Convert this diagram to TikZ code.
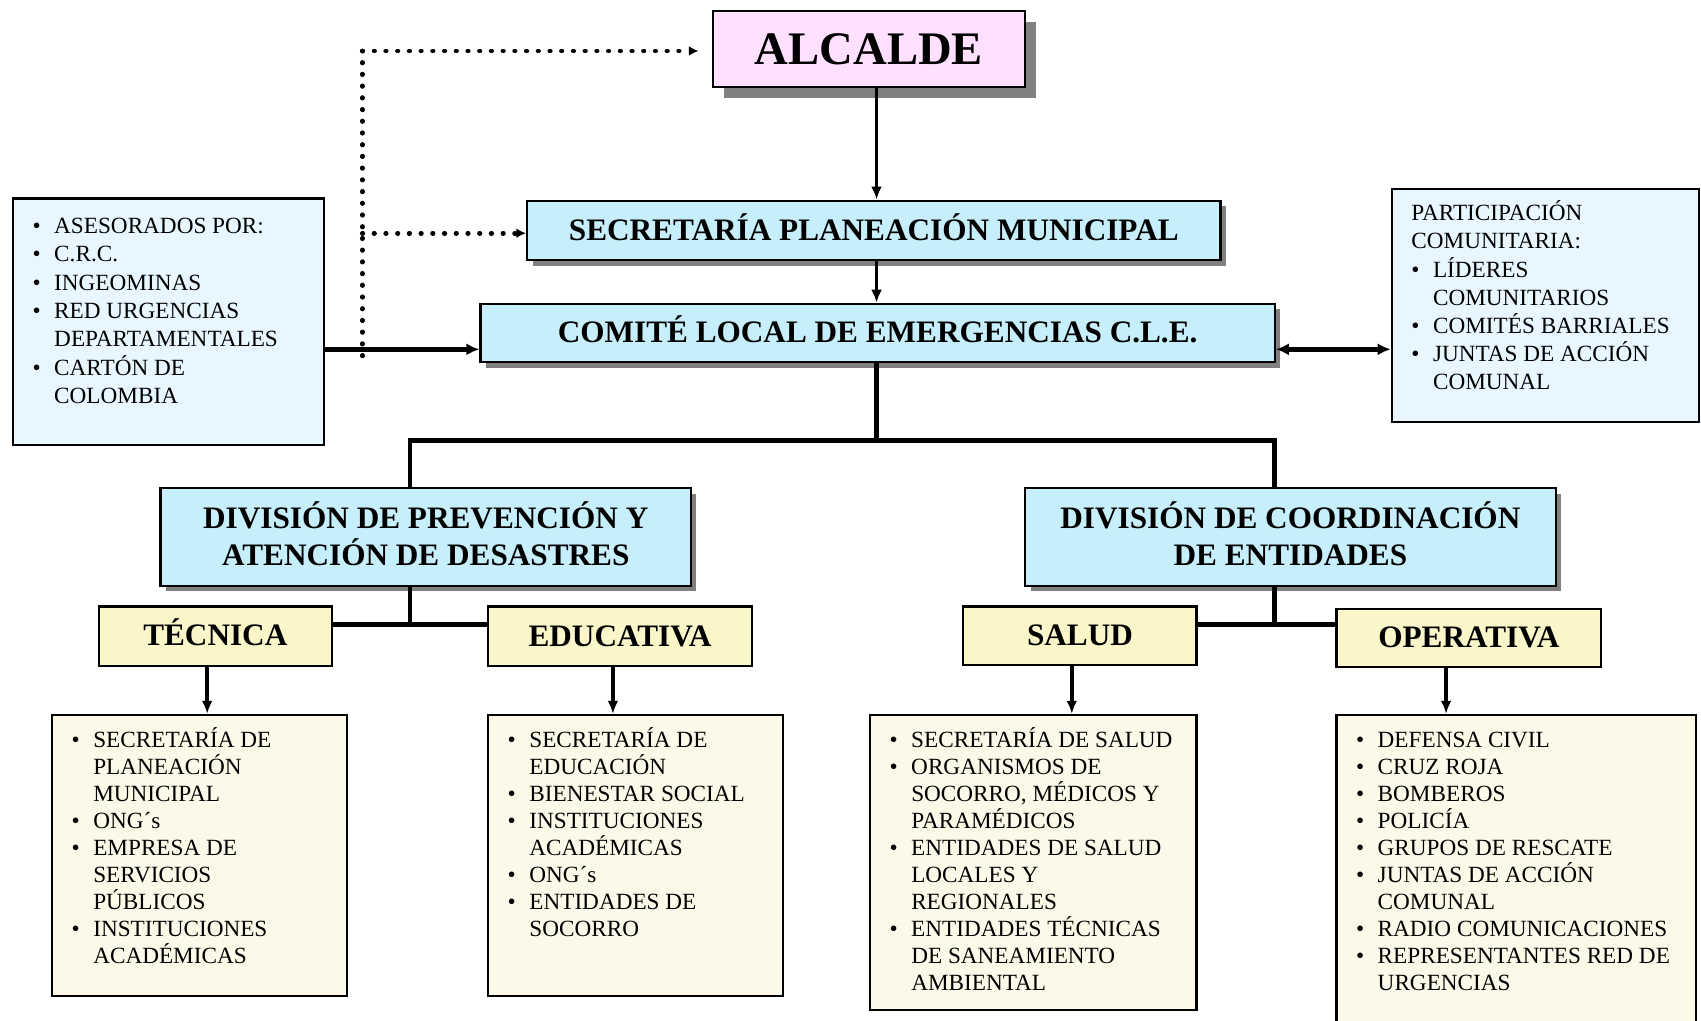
\documentclass[tikz,border=0pt]{standalone}
\usepackage{fontspec}
\setmainfont{Liberation Serif}
\usetikzlibrary{arrows.meta,shadows,calc}

\definecolor{pinkbox}{RGB}{255,224,255}
\definecolor{bluebox}{RGB}{198,238,251}
\definecolor{yelbox}{RGB}{250,246,202}
\definecolor{ivorybox}{RGB}{252,249,232}
\definecolor{sidebox}{RGB}{232,247,255}
\definecolor{shadowgray}{RGB}{128,128,128}

\newcommand\bitem[1]{\par\noindent\hangindent=10pt\hangafter=1\makebox[10pt][l]{\textbullet}\rule{0pt}{9pt}#1}
\newcommand\pitem[1]{\par\noindent\rule{0pt}{9pt}#1}
% depth strut to balance accents above capitals
\newcommand\accfix{\rule[-3.5pt]{0pt}{3.5pt}}
% #1 height, #2 width, #3 top space, #4 baselineskip, #5 body
\newcommand\listbody[5]{\parbox[c][#1][t]{#2}{\fontsize{10.7}{#4}\selectfont\leftskip=9pt\rightskip=0pt\lineskiplimit=-20pt\parskip=0pt\vspace*{#3}#5\par}}

\begin{document}
\begin{tikzpicture}[x=0.5pt,y=-0.5pt,
  box/.style={draw=black,line width=1pt,inner sep=0pt,align=center,
    font=\fontsize{14.4}{17}\selectfont\bfseries},
  lbox/.style={draw=black,line width=1pt,inner sep=0pt},
  shad/.style={drop shadow={shadow xshift=2.5pt,shadow yshift=-2.5pt,fill=shadowgray,opacity=1}},
  conn/.style={line width=1.7pt,-{Latex[length=6pt,width=5pt]}},
  tree/.style={line width=2.2pt},
  dots/.style={line width=2.2pt,line cap=round,dash pattern=on 0.2pt off 5.2pt},
]
\useasboundingbox (0,0) rectangle (1568,941);

% top boxes
\node[box,fill=pinkbox,minimum width=144pt,minimum height=35pt,
  drop shadow={shadow xshift=5pt,shadow yshift=-5pt,fill=shadowgray,opacity=1},
  font=\fontsize{21.5}{25}\selectfont\bfseries] (alc) at (801,45) {ALCALDE};
\node[box,shad,fill=bluebox,minimum width=319.5pt,minimum height=27.5pt] (sec) at (805.5,212.5) {SECRETARÍA PLANEACIÓN MUNICIPAL\accfix};
\node[box,shad,fill=bluebox,minimum width=366pt,minimum height=27pt] (cle) at (809,307) {COMITÉ LOCAL DE EMERGENCIAS C.L.E.\accfix};

% side boxes
\node[lbox,fill=sidebox] (ase) at (155.5,296.5) {\listbody{113.5pt}{143.5pt}{7pt}{13.1pt}{%
  \bitem{ASESORADOS POR:}
  \bitem{C.R.C.}
  \bitem{INGEOMINAS}
  \bitem{RED URGENCIAS\\DEPARTAMENTALES}
  \bitem{CARTÓN DE\\COLOMBIA}}};
\node[lbox,fill=sidebox] (par) at (1424.5,281.5) {\listbody{107.5pt}{141.5pt}{5.5pt}{13pt}{%
  \pitem{PARTICIPACIÓN\\COMUNITARIA:}
  \bitem{LÍDERES\\COMUNITARIOS}
  \bitem{COMITÉS BARRIALES}
  \bitem{JUNTAS DE ACCIÓN\\COMUNAL}}};

% divisions
\node[box,shad,fill=bluebox,minimum width=244.5pt,minimum height=45pt] (divp) at (392.5,495) {DIVISIÓN DE PREVENCIÓN Y\\ATENCIÓN DE DESASTRES\accfix};
\node[box,shad,fill=bluebox,minimum width=244.5pt,minimum height=45pt] (divc) at (1189.5,495) {DIVISIÓN DE COORDINACIÓN\\DE ENTIDADES\accfix};

% sub heads
\node[box,fill=yelbox,minimum width=107.5pt,minimum height=27.5pt] (tec) at (198.5,586.5) {TÉCNICA\accfix};
\node[box,fill=yelbox,minimum width=121.5pt,minimum height=27.5pt] (edu) at (571.5,586.5) {EDUCATIVA};
\node[box,fill=yelbox,minimum width=107.5pt,minimum height=27pt] (sal) at (995.5,586) {SALUD};
\node[box,fill=yelbox,minimum width=122pt,minimum height=27pt] (ope) at (1354,588) {OPERATIVA};

% lists
\node[lbox,fill=ivorybox] (tecl) at (184,788.5) {\listbody{129.5pt}{136pt}{6pt}{12.45pt}{%
  \bitem{SECRETARÍA DE\\PLANEACIÓN\\MUNICIPAL}
  \bitem{ONG´s}
  \bitem{EMPRESA DE\\SERVICIOS\\PÚBLICOS}
  \bitem{INSTITUCIONES\\ACADÉMICAS}}};
\node[lbox,fill=ivorybox] (edul) at (586,788.5) {\listbody{129.5pt}{136pt}{6pt}{12.45pt}{%
  \bitem{SECRETARÍA DE\\EDUCACIÓN}
  \bitem{BIENESTAR SOCIAL}
  \bitem{INSTITUCIONES\\ACADÉMICAS}
  \bitem{ONG´s}
  \bitem{ENTIDADES DE\\SOCORRO}}};
\node[lbox,fill=ivorybox] (sall) at (952.5,795) {\listbody{136pt}{150.5pt}{6pt}{12.45pt}{%
  \bitem{SECRETARÍA DE SALUD}
  \bitem{ORGANISMOS DE\\SOCORRO, MÉDICOS Y\\PARAMÉDICOS}
  \bitem{ENTIDADES DE SALUD\\LOCALES Y\\REGIONALES}
  \bitem{ENTIDADES TÉCNICAS\\DE SANEAMIENTO\\AMBIENTAL}}};
\node[lbox,fill=ivorybox] (opel) at (1397.5,805) {\listbody{146pt}{165.5pt}{6pt}{12.45pt}{%
  \bitem{DEFENSA CIVIL}
  \bitem{CRUZ ROJA}
  \bitem{BOMBEROS}
  \bitem{POLICÍA}
  \bitem{GRUPOS DE RESCATE}
  \bitem{JUNTAS DE ACCIÓN\\COMUNAL}
  \bitem{RADIO COMUNICACIONES}
  \bitem{REPRESENTANTES RED DE\\URGENCIAS}}};

% helper coordinates
\coordinate (vx) at (808,0);
\coordinate (ya) at (0,322);
\coordinate (barL) at (378,406);
\coordinate (barR) at (1175,406);
\coordinate (subL) at (378,576);
\coordinate (subR) at (1175,576);
\coordinate (xt) at (191,0);
\coordinate (xe) at (565,0);
\coordinate (xs) at (988,0);
\coordinate (xo) at (1333,0);
\coordinate (dtop) at (334,47);
\coordinate (dmid) at (334,215);
\coordinate (dbot) at (334,328);

% main chain
\draw[conn] (alc.south -| vx) -- (sec.north -| vx);
\draw[conn] (sec.south -| vx) -- (cle.north -| vx);

% side connectors
\draw[line width=2.2pt,-{Latex[length=6pt,width=5.5pt]}] (ase.east |- ya) -- (cle.west |- ya);
\draw[line width=2.2pt,{Latex[length=6pt,width=5.5pt]}-{Latex[length=6pt,width=5.5pt]}] (cle.east |- ya) -- (par.west |- ya);

% dotted
\draw[dots] (dbot) -- (dtop);
\draw[dots,-{Latex[length=4.5pt,width=4.5pt]},shorten >=6pt] (dtop) -- (alc.west |- dtop);
\draw[dots,-{Latex[length=4.5pt,width=4.5pt]}] (dmid) -- (sec.west |- dmid);

% tree
\draw[tree] (cle.south -| vx) -- (barL -| vx);
\draw[tree] (divp.north -| barL) -- (barL) -- (barR) -- (divc.north -| barR);
\draw[tree] (divp.south -| subL) -- (subL);
\draw[tree] (tec.east |- subL) -- (edu.west |- subL);
\draw[tree] (divc.south -| subR) -- (subR);
\draw[tree] (sal.east |- subR) -- (ope.west |- subR);

% down arrows
\draw[conn] (tec.south -| xt) -- (tecl.north -| xt);
\draw[conn] (edu.south -| xe) -- (edul.north -| xe);
\draw[conn] (sal.south -| xs) -- (sall.north -| xs);
\draw[conn] (ope.south -| xo) -- (opel.north -| xo);
\end{tikzpicture}
\end{document}
